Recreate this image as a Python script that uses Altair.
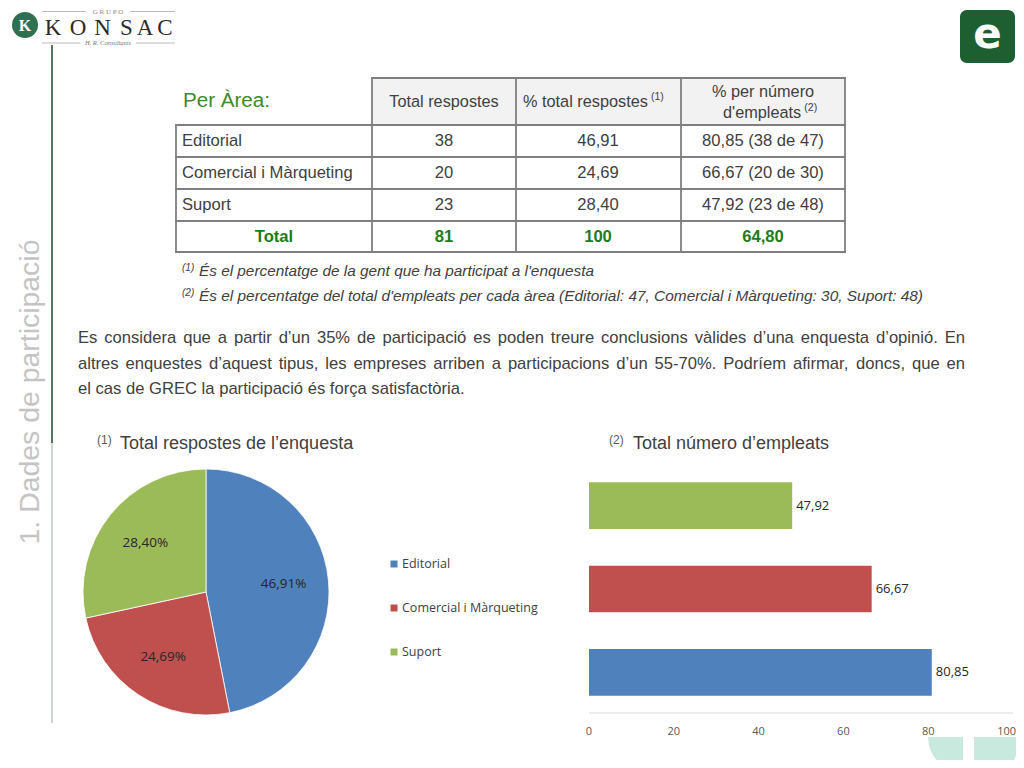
import math
import altair as alt
import pandas as pd

# ---------------- data ----------------
areas = ["Editorial", "Comercial i Màrqueting", "Suport"]
total_respostes = ["38", "20", "23"]
pct_total = ["46,91", "24,69", "28,40"]
pct_empleats = ["80,85 (38 de 47)", "66,67 (20 de 30)", "47,92 (23 de 48)"]
total_row = ["Total", "81", "100", "64,80"]

pie_values = [46.91, 24.69, 28.40]
pie_labels = ["46,91%", "24,69%", "28,40%"]

bar_values = [80.85, 66.67, 47.92]
bar_labels = ["80,85", "66,67", "47,92"]
bar_order = ["Suport", "Comercial i Màrqueting", "Editorial"]
axis_ticks = [0, 20, 40, 60, 80, 100]

area_colors = ["#4f81bd", "#c0504d", "#9bbb59"]

footnotes = [
    "És el percentatge de la gent que ha participat a l'enquesta",
    "És el percentatge del total d'empleats per cada àrea (Editorial: 47, Comercial i Màrqueting: 30, Suport: 48)",
]
paragraph = [
    "Es considera que a partir d’un 35% de participació es poden treure conclusions vàlides d’una enquesta d’opinió. En",
    "altres enquestes d’aquest tipus, les empreses arriben a participacions d’un 55-70%. Podríem afirmar, doncs, que en",
    "el cas de GREC la participació és força satisfactòria.",
]

# ---------------- layout helpers ----------------
O = 8            # page margin
W, H = 1008, 752
SANS = "Liberation Sans"
CHART_FONT = "Open Sans"
SERIF = "Liberation Serif"
TXT = "#404040"


def px(v):
    return v - O


# Helvetica / Liberation Sans advance widths (per 1000 em)
AW = {" ": 278, "!": 278, "%": 889, "'": 191, "(": 333, ")": 333, ",": 278, "-": 333,
      ".": 278, "/": 278, ":": 278, "’": 222,
      "A": 667, "B": 667, "C": 722, "D": 722, "E": 667, "F": 611, "G": 778, "H": 722,
      "I": 278, "J": 500, "K": 667, "L": 556, "M": 833, "N": 722, "O": 778, "P": 667,
      "Q": 778, "R": 722, "S": 667, "T": 611, "U": 722, "V": 667, "W": 944, "X": 667,
      "Y": 667, "Z": 611, "À": 667, "É": 667,
      "a": 556, "b": 556, "c": 500, "d": 556, "e": 556, "f": 278, "g": 556, "h": 556,
      "i": 222, "j": 222, "k": 500, "l": 222, "m": 833, "n": 556, "o": 556, "p": 556,
      "q": 556, "r": 333, "s": 500, "t": 278, "u": 556, "v": 500, "w": 722, "x": 500,
      "y": 500, "z": 500, "à": 556, "á": 556, "è": 556, "é": 556, "í": 278, "ò": 556,
      "ó": 556, "ú": 556, "ç": 500}


def em(s):
    return sum(AW.get(c, 556) for c in s) / 1000.0


def fit(s, width):
    return width / em(s)


layers = []


def T(x, y, s, size, color=TXT, font=SANS, weight="normal", style="normal",
      align="left", baseline="middle", angle=None):
    props = dict(align=align, baseline=baseline, fontSize=size, color=color,
                 font=font, fontWeight=weight, fontStyle=style)
    if angle is not None:
        props["angle"] = angle
    layers.append(
        alt.Chart(pd.DataFrame({"t": [s]})).mark_text(**props).encode(
            x=alt.value(px(x)), y=alt.value(px(y)), text="t:N"))


def R(segs, color, width, cap="square"):
    df = pd.DataFrame([{"x": px(a), "y": px(b), "x2": px(c), "y2": px(d)} for a, b, c, d in segs])
    layers.append(
        alt.Chart(df).mark_rule(color=color, strokeWidth=width, strokeCap=cap).encode(
            x=alt.X("x:Q", scale=None, axis=None), x2="x2:Q",
            y=alt.Y("y:Q", scale=None, axis=None), y2="y2:Q"))


def BOX(x1, y1, x2, y2, color, radius=0):
    layers.append(
        alt.Chart(pd.DataFrame({"k": [0]})).mark_rect(color=color, cornerRadius=radius).encode(
            x=alt.value(px(x1)), x2=alt.value(px(x2)), y=alt.value(px(y1)), y2=alt.value(px(y2))))


def ARC(cx, cy, r, t0, t1, color):
    layers.append(
        alt.Chart(pd.DataFrame({"k": [0]})).mark_arc(
            radius=r, theta=t0, theta2=t1, color=color).encode(
            x=alt.value(px(cx)), y=alt.value(px(cy))))


# ---------------- header decorations ----------------
# logo
ARC(25, 25, 13, 0, 2 * math.pi, "#2f6f52")
T(25, 26, "K", 16, color="white", font=SERIF, weight="bold", align="center")
for ch, cx in zip("KONSAC", [53, 78, 102.5, 126.5, 145, 165]):
    T(cx, 28, ch, 23, color="#2b2b2b", font=SERIF, align="center", baseline="middle")
T(108, 11.5, "G R U P O", 7, color="#8a8a8a", font=SERIF, align="center")
T(108, 43, "H. R. Consultants", 6.5, color="#777777", font=SERIF, style="italic", align="center")
R([(42, 11.5, 86, 11.5), (130, 11.5, 175, 11.5), (42, 43, 80, 43), (136, 43, 175, 43)],
  "#a8a8a8", 0.8, cap="butt")

# icon top-right
BOX(960, 10, 1015, 63, "#1d5f31", radius=7)
T(987.5, 35, "e", 42, color="white", font="DejaVu Sans", weight="bold", align="center")

# side line and vertical title
R([(52, 45, 52, 443)], "#2d4f36", 1.6, cap="butt")
R([(52, 443, 52, 723)], "#c3cbc5", 1.6, cap="butt")
side = "1. Dades de participació"
T(30, 392, side, fit(side, 305), color="#c4c4c4", align="center", angle=270)

# ---------------- table ----------------
BOX(372, 78, 845, 125, "#f2f2f2")
R([(372, 78, 845, 78), (176, 125, 845, 125), (176, 157, 845, 157), (176, 189, 845, 189),
   (176, 221, 845, 221), (176, 252, 845, 252),
   (176, 125, 176, 252), (372, 78, 372, 252), (516, 78, 516, 252), (681, 78, 681, 252),
   (845, 78, 845, 252)], "#7f7f7f", 1.8)

HS = 16.3
T(183, 101, "Per Àrea:", fit("Per Àrea:", 87), color="#3d8b2a")
T(444, 102, "Total respostes", HS, align="center")
T(523, 102, "% total respostes", HS)
T(523 + em("% total respostes") * HS + 3, 97, "(1)", 10.5)
T(763, 92, "% per número", HS, align="center")
T(723, 113, "d'empleats", HS)
T(723 + em("d'empleats") * HS + 3, 108, "(2)", 10.5)

row_y = [141, 173, 205]
for i in range(3):
    T(182, row_y[i], areas[i], 16.6)
    T(444, row_y[i], total_respostes[i], 16.6, align="center")
    T(598, row_y[i], pct_total[i], 16.6, align="center")
    T(763, row_y[i], pct_empleats[i], 16.6, align="center")
for s, cx in zip(total_row, [274, 444, 598, 763]):
    T(cx, 237, s, 16.6, color="#1b7d1b", weight="bold", align="center")

# footnotes
T(182, 268, "(1)", 10, style="italic")
T(199, 271, footnotes[0], fit(footnotes[0], 403) * 0.98, style="italic")
T(182, 293, "(2)", 10, style="italic")
T(199, 296, footnotes[1], fit(footnotes[1], 739) * 0.98, style="italic")

# ---------------- justified paragraph ----------------
PSIZE = 16.6
P_LEFT, P_RIGHT = 78, 965
par_y = [338, 364, 389]
for li, line in enumerate(paragraph):
    words = line.split(" ")
    widths = [em(w) * PSIZE for w in words]
    if li < len(paragraph) - 1:
        gap = (P_RIGHT - P_LEFT - sum(widths)) / (len(words) - 1)
    else:
        gap = em(" ") * PSIZE
    xs_, cur = [], P_LEFT
    for w_ in widths:
        xs_.append(px(cur))
        cur += w_ + gap
    df = pd.DataFrame({"w": words, "x": xs_, "y": [px(par_y[li])] * len(words)})
    layers.append(
        alt.Chart(df).mark_text(align="left", baseline="middle", fontSize=PSIZE,
                                font=SANS, color=TXT).encode(
            x=alt.X("x:Q", scale=None, axis=None), y=alt.Y("y:Q", scale=None, axis=None),
            text="w:N"))

# ---------------- chart titles ----------------
T(97, 440, "(1)", 12, color="#595959")
T(120, 444, "Total respostes de l’enquesta", 18)
T(609, 440, "(2)", 12, color="#595959")
T(633, 444, "Total número d’empleats", 18)

# ---------------- pie ----------------
cscale = alt.Scale(domain=areas, range=area_colors)
pie_df = pd.DataFrame({"area": areas, "pct": pie_values, "lab": pie_labels, "idx": [0, 1, 2]})
theta = alt.Theta("pct:Q", stack=True)
layers.append(
    alt.Chart(pie_df).mark_arc(outerRadius=123, stroke="white", strokeWidth=0.8).encode(
        theta=theta, color=alt.Color("area:N", scale=cscale, legend=None),
        order=alt.Order("idx:Q"), x=alt.value(px(206)), y=alt.value(px(592))))
layers.append(
    alt.Chart(pie_df).mark_text(radius=78, font=CHART_FONT, fontSize=13.5, color="#262626").encode(
        theta=theta, detail="area:N", order=alt.Order("idx:Q"), text="lab:N",
        x=alt.value(px(206)), y=alt.value(px(592))))

# pie legend
lscale = alt.Scale(type="point", domain=areas, range=[px(564), px(652)], padding=0)
layers.append(
    alt.Chart(pie_df).mark_square(size=49, opacity=1).encode(
        y=alt.Y("area:N", scale=lscale, axis=None),
        color=alt.Color("area:N", scale=cscale, legend=None),
        x=alt.value(px(394))))
layers.append(
    alt.Chart(pie_df).mark_text(align="left", baseline="middle", font=CHART_FONT,
                                fontSize=12.5, color="#404040").encode(
        y=alt.Y("area:N", scale=lscale, axis=None), text="area:N", x=alt.value(px(402))))

# ---------------- bars ----------------
bar_df = pd.DataFrame({"area": areas, "val": bar_values, "lab": bar_labels})
xs = alt.Scale(domain=[0, 100], range=[px(589), px(1013)], nice=False, zero=True)
ys = alt.Scale(type="band", domain=bar_order, range=[px(464), px(714)],
               paddingInner=0.44, paddingOuter=0.22)
layers.append(
    alt.Chart(bar_df).mark_bar().encode(
        x=alt.X("val:Q", scale=xs, axis=None),
        y=alt.Y("area:N", scale=ys, axis=None),
        color=alt.Color("area:N", scale=cscale, legend=None)))
layers.append(
    alt.Chart(bar_df).mark_text(align="left", baseline="middle", dx=4, font=CHART_FONT,
                                fontSize=13, color="#262626").encode(
        x=alt.X("val:Q", scale=xs, axis=None),
        y=alt.Y("area:N", scale=ys, axis=None), text="lab:N"))

# axis line and tick labels through the same x scale
layers.append(
    alt.Chart(pd.DataFrame({"a": [axis_ticks[0]], "b": [axis_ticks[-1]]})).mark_rule(
        color="#d9d9d9", strokeWidth=1.2).encode(
        x=alt.X("a:Q", scale=xs, axis=None), x2="b:Q", y=alt.value(px(713))))
tick_df = pd.DataFrame({"v": axis_ticks, "s": [str(v) for v in axis_ticks]})
layers.append(
    alt.Chart(tick_df[tick_df.v < 100]).mark_text(baseline="middle", font=CHART_FONT,
                                                  fontSize=11, color="#595959").encode(
        x=alt.X("v:Q", scale=xs, axis=None), y=alt.value(px(732)), text="s:N"))
layers.append(
    alt.Chart(tick_df[tick_df.v == 100]).mark_text(baseline="middle", align="right", dx=3,
                                                   font=CHART_FONT, fontSize=11,
                                                   color="#595959").encode(
        x=alt.X("v:Q", scale=xs, axis=None), y=alt.value(px(732)), text="s:N"))

# bottom-right decoration
ARC(963, 737, 35, math.pi, 1.5 * math.pi, "#c8e9de")
ARC(974, 737, 46, 0.5 * math.pi, math.pi, "#c8e9de")

chart = alt.layer(*layers).resolve_scale(
    x="independent", y="independent", color="independent", theta="independent"
).properties(
    width=W, height=H, padding=0, background="white",
    autosize=alt.AutoSizeParams(type="none"),
).configure_view(stroke=None)

chart.save("out.html", embed_options={"renderer": "svg", "actions": False})
